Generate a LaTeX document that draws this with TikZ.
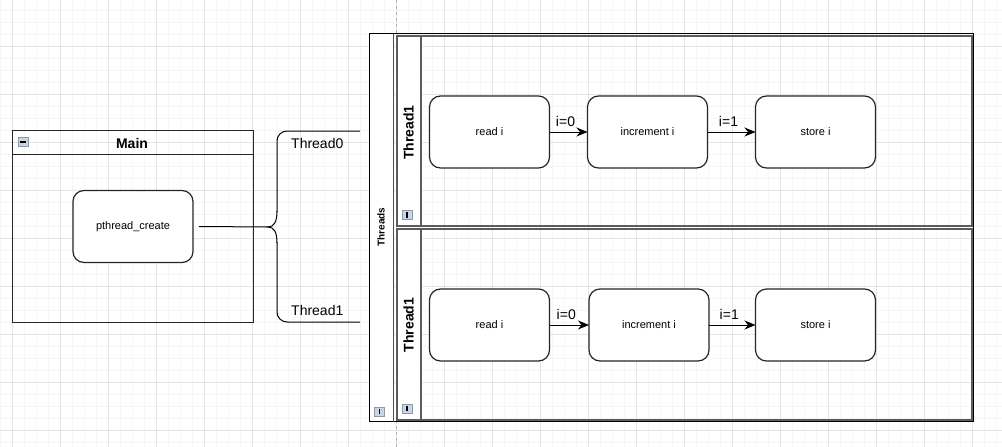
\documentclass[tikz,border=0pt]{standalone}
\usepackage{fontspec}
\setmainfont{Liberation Sans}
\usetikzlibrary{arrows.meta}
\definecolor{gridmin}{HTML}{F5F5F5}
\definecolor{gridmaj}{HTML}{E4E4E4}
\definecolor{lanegray}{HTML}{5C5C5C}
\definecolor{iconfill}{HTML}{C9D5E3}
\definecolor{iconline}{HTML}{8A9AAE}
\begin{document}
\begin{tikzpicture}[x=1pt,y=-1pt,
  box/.style={draw=black!85, line width=1.2pt, rounded corners=11pt, fill=white,
    minimum width=120pt, minimum height=72pt, inner sep=0pt, outer sep=0pt,
    font=\fontsize{11}{13}\selectfont},
  flow/.style={draw=black, line width=1pt, -{Stealth[length=11pt,width=9pt,inset=3.5pt]}},
  lbl/.style={font=\fontsize{14}{16}\selectfont, inner sep=0pt},
  icon/.style={draw=iconline, fill=iconfill, minimum width=10pt, minimum height=9pt,
    inner sep=0pt, line width=0.6pt},
  frame/.style={inner sep=0pt, outer sep=0pt, anchor=north west},
  lanebox/.style={frame, draw=lanegray, line width=2pt},
  hdr/.style={frame, fill=white},
  bar/.style={line width=1.3pt, black},
]
\useasboundingbox (0,0) rectangle (1002,447);
\fill[white] (0,0) rectangle (1002,447);
% grid
\foreach \x in {0,12,...,1000} \draw[gridmin, line width=0.8pt] (\x,0) -- (\x,447);
\foreach \y in {10,22,...,446} \draw[gridmin, line width=0.8pt] (0,\y) -- (1002,\y);
\foreach \x in {12,60,...,1000} \draw[gridmaj, line width=0.8pt] (\x,0) -- (\x,447);
\foreach \y in {46,94,...,446} \draw[gridmaj, line width=0.8pt] (0,\y) -- (1002,\y);
\draw[gray!60, dash pattern=on 3pt off 3pt, line width=0.8pt] (396,0) -- (396,447);

% Main container
\node[frame, draw=black!85, line width=1.3pt, minimum width=241pt, minimum height=192pt] (main) at (12.5,130.5) {};
\draw[black!85, line width=1.1pt] ([yshift=-24pt]main.north west) -- ([yshift=-24pt]main.north east);
\node[font=\bfseries\fontsize{14}{16}\selectfont, inner sep=0pt] (maintitle) at (132,143) {Main};
\node[icon] (mainicon) at (23,142) {};
\draw[bar] ([xshift=-3pt]mainicon.center) -- ([xshift=3pt]mainicon.center);
\node[box] (pc) at (133,226.5) {pthread\_create};

% brace
\coordinate (tip) at (268,227);
\coordinate (arm0) at (360,131);
\coordinate (arm1) at (360,322);
\draw[line width=1pt] ([xshift=6pt]pc.east) -- (tip);
\draw[line width=1pt, rounded corners=10pt] (arm0) -- (277,131) -- (277,212);
\draw[line width=1pt] (277,211) .. controls (277,222) and (274,227) .. (tip)
  .. controls (274,227) and (277,232) .. (277,243);
\draw[line width=1pt, rounded corners=10pt] (277,242) -- (277,322) -- (arm1);
\node[lbl, anchor=west] (t0lbl) at (291,143) {Thread0};
\node[lbl, anchor=west] (t1lbl) at (291,310) {Thread1};

% Threads pool
\node[hdr, minimum width=24pt, minimum height=388pt] (poolhdr) at (369.5,33.5) {};
\node[frame, draw=black, line width=1.3pt, minimum width=604pt, minimum height=388pt] (pool) at (369.5,33.5) {};
\draw[black!70, line width=1pt] (393.5,33.5) -- (393.5,421.5);
\node[font=\bfseries\fontsize{10}{12}\selectfont, rotate=90, inner sep=0pt] (pooltitle) at (381,227) {Threads};
\node[icon] (poolicon) at (379.5,411.5) {};
\draw[bar] ([yshift=-2.8pt]poolicon.center) -- ([yshift=2.8pt]poolicon.center);

% Lane 1
\node[hdr, minimum width=24pt, minimum height=190pt] (l1hdr) at (397,36) {};
\node[lanebox, minimum width=575pt, minimum height=190.5pt] (lane1) at (396.5,35.5) {};
\draw[lanegray, line width=1.6pt] (421,35.5) -- (421,226);
\node[font=\bfseries\fontsize{14}{16}\selectfont, rotate=90, inner sep=0pt] (l1title) at (408.5,132.5) {Thread1};
\node[icon] (l1icon) at (407,215) {};
\draw[bar] ([yshift=-2.8pt]l1icon.center) -- ([yshift=2.8pt]l1icon.center);

% Lane 2
\node[hdr, minimum width=24pt, minimum height=190pt] (l2hdr) at (397,229.5) {};
\node[lanebox, minimum width=575pt, minimum height=191pt] (lane2) at (396.5,229) {};
\draw[lanegray, line width=1.6pt] (421,229) -- (421,420);
\node[font=\bfseries\fontsize{14}{16}\selectfont, rotate=90, inner sep=0pt] (l2title) at (408.5,325) {Thread1};
\node[icon] (l2icon) at (407,408.5) {};
\draw[bar] ([yshift=-2.8pt]l2icon.center) -- ([yshift=2.8pt]l2icon.center);

% Lane 1 nodes
\node[box] (r1) at (489.5,132) {read i};
\node[box] (i1) at (647.5,132) {increment i};
\node[box] (s1) at (815.5,132) {store i};
\draw[flow] (r1) -- node[lbl, above=5pt, xshift=-3pt] {i=0} (i1);
\draw[flow] (i1) -- node[lbl, above=5pt, xshift=-3pt] {i=1} (s1);

% Lane 2 nodes
\node[box] (r2) at (489.5,325) {read i};
\node[box] (i2) at (649,325) {increment i};
\node[box] (s2) at (815.5,325) {store i};
\draw[flow] (r2) -- node[lbl, above=5pt, xshift=-3pt] {i=0} (i2);
\draw[flow] (i2) -- node[lbl, above=5pt, xshift=-3pt] {i=1} (s2);
\end{tikzpicture}
\end{document}
